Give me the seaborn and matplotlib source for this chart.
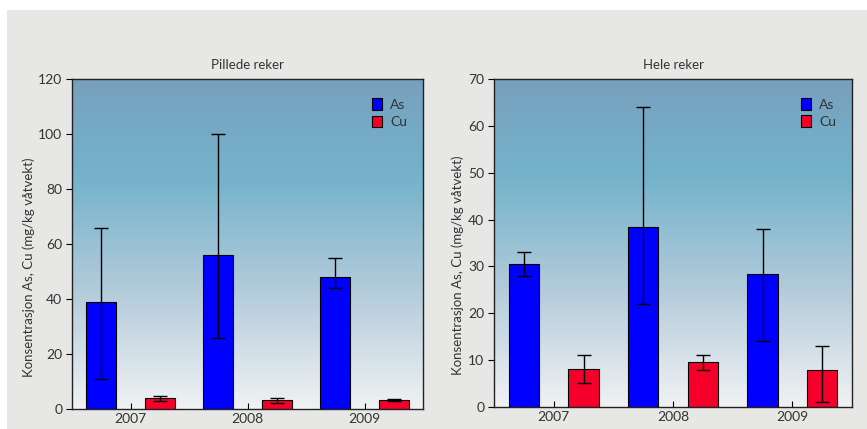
import numpy as np
import pandas as pd
import matplotlib
matplotlib.use("Agg")
import matplotlib.pyplot as plt
from matplotlib.colors import LinearSegmentedColormap
from matplotlib.patches import Rectangle
import seaborn as sns

years = ["2007", "2008", "2009"]
metals = ["As", "Cu"]

# Pillede reker
pil_as = [39, 56, 48]
pil_as_lo = [11, 26, 44]
pil_as_hi = [66, 100, 55]
pil_cu = [4.0, 3.3, 3.3]
pil_cu_lo = [3.0, 2.3, 2.8]
pil_cu_hi = [4.8, 4.0, 3.8]

# Hele reker
hel_as = [30.5, 38.5, 28.3]
hel_as_lo = [28, 22, 14]
hel_as_hi = [33, 64, 38]
hel_cu = [8.2, 9.5, 7.8]
hel_cu_lo = [5.2, 8, 1]
hel_cu_hi = [11, 11, 13]

titles = ["Pillede reker", "Hele reker"]
ylims = [120, 70]
yticks = [[0, 20, 40, 60, 80, 100, 120], [0, 10, 20, 30, 40, 50, 60, 70]]
ylabel = "Konsentrasjon As, Cu (mg/kg våtvekt)"

sns.set_theme(style="white")
plt.rcParams["font.family"] = ["Lato", "DejaVu Sans"]

fig = plt.figure(figsize=(8.67, 4.29), dpi=100, facecolor="white")
fig.patches.append(Rectangle((7 / 867, 0), 1, 1 - 10 / 429, transform=fig.transFigure,
                             facecolor="#e7e7e6", edgecolor="none", zorder=-10))

grad = LinearSegmentedColormap.from_list(
    "bg", [(0, "#f0f2f3"), (0.35, "#b4ccdb"), (0.7, "#74b3cb"), (1.0, "#77a0be")])

positions = [[72 / 867, 1 - 409 / 429, 351 / 867, 330 / 429],
             [494 / 867, 1 - 407 / 429, 358 / 867, 328 / 429]]
palette = {"As": "#0000ff", "Cu": "#f5002a"}

datasets = [
    (pil_as, pil_as_lo, pil_as_hi, pil_cu, pil_cu_lo, pil_cu_hi),
    (hel_as, hel_as_lo, hel_as_hi, hel_cu, hel_cu_lo, hel_cu_hi),
]
ylabel_y = [(409 - 267) / 330, (407 - 265) / 328]
ylabel_x = [-0.105, -0.083]

for i, (a, alo, ahi, c, clo, chi) in enumerate(datasets):
    ax = fig.add_axes(positions[i])
    df = pd.DataFrame({
        "year": years * 2,
        "metal": ["As"] * 3 + ["Cu"] * 3,
        "value": a + c,
    })
    sns.barplot(data=df, x="year", y="value", hue="metal", hue_order=metals,
                palette=palette, width=1.0, gap=0.49, errorbar=None,
                edgecolor="black", linewidth=0.8, saturation=1, ax=ax, zorder=2)
    ax.imshow(np.linspace(1, 0, 256).reshape(-1, 1), cmap=grad, aspect="auto",
              extent=[0, 1, 0, 1], transform=ax.transAxes, zorder=0)
    ax.set_xlim(-0.5, 2.5)
    ax.set_ylim(0, ylims[i])
    ax.set_yticks(yticks[i])

    bars = [p for p in ax.patches if isinstance(p, Rectangle) and p.get_width() > 0][:6]
    lows = alo + clo
    highs = ahi + chi
    vals = a + c
    for b, v, lo, hi in zip(bars, vals, lows, highs):
        xc = b.get_x() + b.get_width() / 2
        ax.errorbar([xc], [v], yerr=[[v - lo], [hi - v]], fmt="none", ecolor="black",
                    elinewidth=1.0, capsize=5, capthick=1.0, zorder=3)

    ax.set_title(titles[i], fontsize=9.5, color="#333333", pad=7)
    ax.set_xlabel("")
    ax.set_ylabel(ylabel, fontsize=9.5, color="#333333")
    ax.yaxis.set_label_coords(ylabel_x[i], ylabel_y[i])
    ax.tick_params(axis="y", direction="out", length=4, width=0.8, color="black",
                   labelsize=10, labelcolor="#333333", pad=3, left=True)
    ax.tick_params(axis="x", direction="in", length=4, width=0.8, color="black",
                   labelsize=10, labelcolor="#333333", pad=3, bottom=True)
    for s in ax.spines.values():
        s.set_visible(True)
        s.set_color("#222222")
        s.set_linewidth(1.0)

    leg = ax.legend(loc="upper right", bbox_to_anchor=(0.99, 0.98), frameon=False,
                    fontsize=10, handlelength=0.7, handleheight=0.9, handletextpad=0.6,
                    labelspacing=0.35, labelcolor="#333333")
    for h in leg.legend_handles:
        h.set_edgecolor("black")
        h.set_linewidth(0.8)

fig.savefig("out.png", dpi=100, facecolor=fig.get_facecolor())
